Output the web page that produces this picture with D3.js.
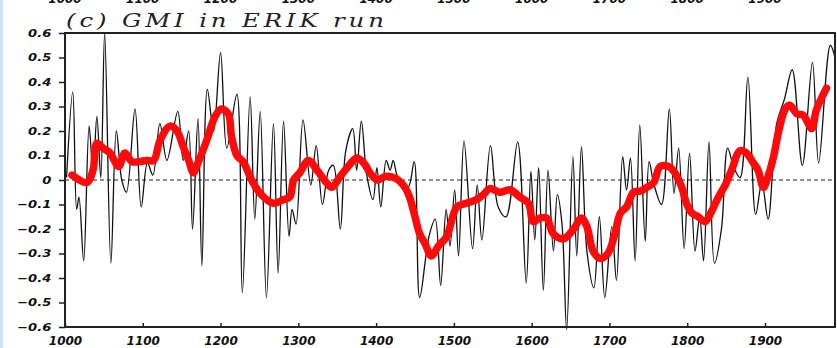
<!DOCTYPE html>
<html><head><meta charset="utf-8">
<script src="https://cdn.jsdelivr.net/npm/d3@7/dist/d3.min.js"></script>
<style>
html,body{margin:0;padding:0;background:#fff;}
svg{display:block;}
</style></head>
<body>
<svg id="chart" width="837" height="348"></svg>
<script>
const titleText = "(c) GMI in ERIK run";
const xTicks = [1000,1100,1200,1300,1400,1500,1600,1700,1800,1900];
const yTicks = [-0.6,-0.5,-0.4,-0.3,-0.2,-0.1,0,0.1,0.2,0.3,0.4,0.5,0.6];

const blackYears = [1002,1010,1015,1018,1024,1031,1036,1041,1046,1051,1059,1066,1073,1079,1090,1098,1106,1113,1122,1131,1145,1152,1159,1164,1171,1176,1183,1191,1200,1208,1221,1228,1238,1244,1251,1259,1268,1274,1281,1288,1292,1297,1306,1316,1323,1331,1339,1345,1354,1361,1370,1375,1381,1388,1396,1401,1406,1413,1418,1422,1428,1441,1449,1456,1468,1476,1483,1490,1495,1501,1506,1513,1524,1530,1536,1547,1557,1567,1582,1593,1599,1604,1609,1615,1621,1628,1633,1639,1645,1653,1658,1664,1671,1680,1687,1694,1703,1709,1717,1722,1727,1733,1739,1746,1751,1757,1767,1777,1783,1789,1796,1803,1810,1816,1821,1828,1835,1844,1852,1860,1868,1878,1888,1896,1904,1915,1925,1935,1948,1961,1969,1984,1990];
const blackValues = [0.01,0.36,-0.12,-0.07,-0.33,0.22,0.03,0.26,0.01,0.6,-0.34,0.2,0.0,-0.05,0.29,-0.11,0.07,0.02,0.23,0.08,0.28,0.08,0.2,-0.2,0.25,-0.35,0.37,0.2,0.52,0.13,0.35,-0.46,0.34,-0.16,0.28,-0.48,0.23,-0.38,0.24,-0.23,-0.12,-0.18,0.245,-0.02,0.14,-0.1,0.04,0.06,-0.2,0.12,0.21,0.04,0.24,0.02,-0.08,0.05,-0.11,0.08,0.04,0.08,0.01,-0.03,0.075,-0.48,-0.23,-0.16,-0.43,-0.12,-0.27,-0.04,-0.31,0.16,-0.28,-0.02,-0.245,0.14,-0.11,-0.15,0.155,-0.42,0.035,-0.245,0.05,-0.45,0.04,-0.29,-0.06,-0.18,-0.61,0.095,-0.31,0.135,-0.29,-0.44,-0.15,-0.48,-0.19,-0.41,0.095,-0.04,0.09,-0.33,0.225,-0.25,0.075,-0.015,-0.1,0.29,-0.055,0.13,-0.28,0.11,-0.29,-0.15,-0.33,0.155,-0.34,-0.2,0.13,0.05,0.01,0.42,-0.14,-0.01,-0.16,0.23,0.33,0.45,0.06,0.48,0.07,0.55,0.5];

const redYears = [1009,1028,1036,1041,1049,1058,1069,1077,1086,1096,1105,1114,1122,1135,1144,1152,1159,1165,1171,1182,1193,1201,1210,1214,1221,1229,1240,1251,1268,1281,1289,1294,1302,1313,1324,1336,1343,1354,1364,1375,1384,1392,1401,1413,1426,1437,1443,1450,1456,1463,1471,1480,1491,1495,1504,1516,1529,1538,1546,1559,1572,1585,1596,1602,1611,1619,1628,1641,1654,1664,1671,1679,1688,1698,1707,1714,1722,1731,1740,1748,1757,1765,1776,1784,1793,1799,1806,1814,1823,1831,1840,1849,1857,1868,1876,1885,1891,1898,1904,1911,1917,1926,1932,1941,1949,1960,1966,1979];
const redValues = [0.02,-0.01,0.04,0.15,0.13,0.11,0.055,0.11,0.075,0.075,0.08,0.08,0.16,0.22,0.2,0.135,0.08,0.03,0.07,0.16,0.26,0.29,0.27,0.18,0.1,0.075,0.0,-0.055,-0.095,-0.08,-0.07,0.0,0.03,0.08,0.04,-0.01,-0.03,0.015,0.055,0.09,0.07,0.03,0.0,0.015,0.005,-0.03,-0.07,-0.15,-0.22,-0.26,-0.31,-0.27,-0.23,-0.19,-0.11,-0.095,-0.08,-0.06,-0.035,-0.05,-0.04,-0.07,-0.095,-0.17,-0.155,-0.155,-0.22,-0.24,-0.2,-0.155,-0.19,-0.29,-0.32,-0.3,-0.22,-0.135,-0.11,-0.05,-0.045,-0.03,-0.01,0.055,0.055,0.03,-0.03,-0.095,-0.135,-0.15,-0.17,-0.13,-0.07,-0.02,0.04,0.12,0.11,0.07,0.04,-0.03,0.015,0.095,0.19,0.29,0.305,0.27,0.265,0.21,0.285,0.375];

(function(){
const svg = d3.select("#chart");
const W = 837, H = 348;
const mLeft = 65, mRight = 835, mTop = 33, mBottom = 327;

svg.append("rect").attr("x",0).attr("y",0).attr("width",W).attr("height",H).attr("fill","#fff");
svg.append("rect").attr("x",0).attr("y",0).attr("width",3).attr("height",H).attr("fill","#cfe2f8");

const x = d3.scaleLinear().domain([1000,1990]).range([mLeft,mRight]);
const y = d3.scaleLinear().domain([-0.6,0.6]).range([mBottom,mTop]);

const fmtY = v => (Math.abs(v) < 1e-9 ? "0" : (v < 0 ? "\u2212" + d3.format(".1f")(-v) : d3.format(".1f")(v)));

// partial tick labels from the panel above (cut by the top edge, as in the source image)
svg.append("g").selectAll("text").data(xTicks).join("text")
  .attr("x", d => x(d)).attr("y", 3)
  .attr("text-anchor","middle")
  .attr("font-family","DejaVu Sans").attr("font-weight","bold").attr("font-style","italic")
  .attr("font-size",12).attr("fill","#111")
  .text(d => d);

// zero line
svg.append("line").attr("x1",mLeft).attr("x2",mRight).attr("y1",y(0)).attr("y2",y(0))
  .attr("stroke","#222").attr("stroke-width",1).attr("stroke-dasharray","4,3");

const pts = (xs, vs) => xs.map((d,i) => [d, vs[i]]);

svg.append("path").datum(pts(blackYears, blackValues))
  .attr("d", d3.line().x(d => x(d[0])).y(d => y(d[1])).curve(d3.curveCatmullRom.alpha(0.5)))
  .attr("fill","none").attr("stroke","#111").attr("stroke-width",1.3);

svg.append("path").datum(pts(redYears, redValues))
  .attr("d", d3.line().x(d => x(d[0])).y(d => y(d[1])).curve(d3.curveCatmullRom.alpha(0.5)))
  .attr("fill","none").attr("stroke","#ff0a0a").attr("stroke-width",7.5)
  .attr("stroke-linejoin","round").attr("stroke-linecap","round");

// axes
const yAxis = d3.axisLeft(y).tickValues(yTicks).tickSize(6).tickPadding(5).tickFormat(fmtY);
const gy = svg.append("g").attr("transform",`translate(${mLeft},0)`).call(yAxis);
gy.select(".domain").remove();
gy.selectAll(".tick line").attr("stroke","#222").attr("stroke-width",1.5);
gy.selectAll(".tick text")
  .attr("font-family","DejaVu Sans").attr("font-weight","bold").attr("font-style","italic")
  .attr("font-size",10.5).attr("fill","#111")
  .attr("transform","scale(1.25,1)");

const xAxis = d3.axisBottom(x).tickValues(xTicks).tickSize(-4).tickPadding(9).tickFormat(d => d);
const gx = svg.append("g").attr("transform",`translate(0,${mBottom})`).call(xAxis);
gx.select(".domain").remove();
gx.selectAll(".tick line").attr("stroke","#222").attr("stroke-width",1.5);
gx.selectAll(".tick text")
  .attr("font-family","DejaVu Sans").attr("font-weight","bold").attr("font-style","italic")
  .attr("font-size",12).attr("fill","#111");

// frame
svg.append("rect").attr("x",mLeft).attr("y",mTop).attr("width",mRight-mLeft).attr("height",mBottom-mTop)
  .attr("fill","none").attr("stroke","#222").attr("stroke-width",2);

// title, stretched horizontally to match the wide plotter font
const t = svg.append("text").attr("x",0).attr("y",0)
  .attr("font-family","DejaVu Serif").attr("font-style","italic")
  .attr("font-size",19).attr("fill","#222")
  .attr("letter-spacing",3)
  .text(titleText);
const nat = t.node().getComputedTextLength();
const sx = 322 / nat;
t.attr("transform",`translate(66,27) scale(${sx},1)`);
})();
</script>
</body></html>
